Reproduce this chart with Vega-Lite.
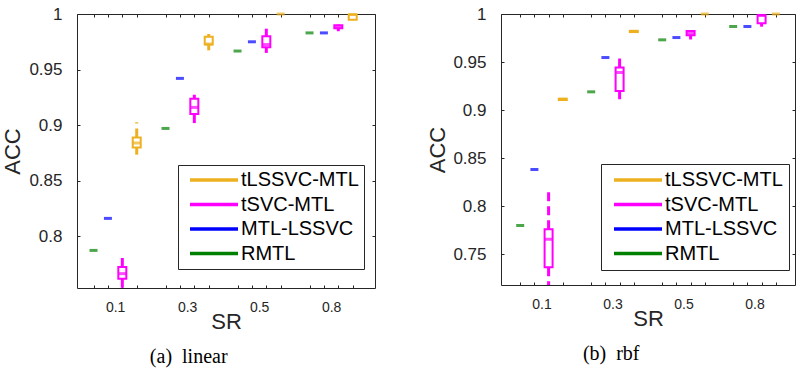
{
  "$schema": "https://vega.github.io/schema/vega-lite/v6.json",
  "padding": {"left": 1, "top": 4, "right": 0, "bottom": 0},
  "background": "white",
  "config": {
    "view": {"stroke": "#262626", "strokeWidth": 1},
    "axis": {"domain": false, "grid": false, "tickColor": "#262626", "tickSize": -3, "tickWidth": 1, "labelColor": "#262626", "titleColor": "#262626", "labelFont": "Liberation Sans", "titleFont": "Liberation Sans", "titleFontWeight": "normal"},
    "legend": {"orient": "none", "title": null, "symbolType": "M-0.6,0H9", "symbolSize": 100, "symbolStrokeWidth": 3.3, "labelFontSize": 20, "labelFont": "Liberation Sans", "labelColor": "black", "strokeColor": "#262626", "fillColor": "white", "padding": 5, "rowPadding": 4.5, "labelOffset": 38},
    "title": {"orient": "bottom", "anchor": "middle", "frame": "bounds", "font": "Liberation Serif", "fontSize": 20, "fontWeight": "normal", "color": "black", "offset": 15}
  },
  "datasets": {
    "boxes": [
      {"panel": "a", "sr": "0.1", "method": "RMTL", "pos": 1, "lo": 0.7874, "q1": 0.7874, "med": 0.7874, "q3": 0.7874, "hi": 0.7874},
      {"panel": "a", "sr": "0.1", "method": "MTL-LSSVC", "pos": 2, "lo": 0.8162, "q1": 0.8162, "med": 0.8162, "q3": 0.8162, "hi": 0.8162},
      {"panel": "a", "sr": "0.1", "method": "tSVC-MTL", "pos": 3, "lo": 0.745, "q1": 0.762, "med": 0.7665, "q3": 0.7725, "hi": 0.7806},
      {"panel": "a", "sr": "0.1", "method": "tLSSVC-MTL", "pos": 4, "lo": 0.8735, "q1": 0.88, "med": 0.884, "q3": 0.889, "hi": 0.9027},
      {"panel": "a", "sr": "0.3", "method": "RMTL", "pos": 6, "lo": 0.8971, "q1": 0.8971, "med": 0.8971, "q3": 0.8971, "hi": 0.8971},
      {"panel": "a", "sr": "0.3", "method": "MTL-LSSVC", "pos": 7, "lo": 0.9421, "q1": 0.9421, "med": 0.9421, "q3": 0.9421, "hi": 0.9421},
      {"panel": "a", "sr": "0.3", "method": "tSVC-MTL", "pos": 8, "lo": 0.8984, "q1": 0.91, "med": 0.916, "q3": 0.9238, "hi": 0.9274},
      {"panel": "a", "sr": "0.3", "method": "tLSSVC-MTL", "pos": 9, "lo": 0.9673, "q1": 0.9725, "med": 0.973, "q3": 0.9795, "hi": 0.982},
      {"panel": "a", "sr": "0.5", "method": "RMTL", "pos": 11, "lo": 0.9667, "q1": 0.9667, "med": 0.9667, "q3": 0.9667, "hi": 0.9667},
      {"panel": "a", "sr": "0.5", "method": "MTL-LSSVC", "pos": 12, "lo": 0.975, "q1": 0.975, "med": 0.975, "q3": 0.975, "hi": 0.975},
      {"panel": "a", "sr": "0.5", "method": "tSVC-MTL", "pos": 13, "lo": 0.965, "q1": 0.97, "med": 0.9725, "q3": 0.98, "hi": 0.9868},
      {"panel": "a", "sr": "0.5", "method": "tLSSVC-MTL", "pos": 14, "lo": 1.0, "q1": 1.0, "med": 1.0, "q3": 1.0, "hi": 1.0},
      {"panel": "a", "sr": "0.8", "method": "RMTL", "pos": 16, "lo": 0.983, "q1": 0.983, "med": 0.983, "q3": 0.983, "hi": 0.983},
      {"panel": "a", "sr": "0.8", "method": "MTL-LSSVC", "pos": 17, "lo": 0.983, "q1": 0.983, "med": 0.983, "q3": 0.983, "hi": 0.983},
      {"panel": "a", "sr": "0.8", "method": "tSVC-MTL", "pos": 18, "lo": 0.9845, "q1": 0.9872, "med": 0.9885, "q3": 0.9898, "hi": 0.9905},
      {"panel": "a", "sr": "0.8", "method": "tLSSVC-MTL", "pos": 19, "lo": 0.9945, "q1": 0.9948, "med": 0.9995, "q3": 0.9995, "hi": 1.0},
      {"panel": "b", "sr": "0.1", "method": "RMTL", "pos": 1, "lo": 0.78, "q1": 0.78, "med": 0.78, "q3": 0.78, "hi": 0.78},
      {"panel": "b", "sr": "0.1", "method": "MTL-LSSVC", "pos": 2, "lo": 0.8382, "q1": 0.8382, "med": 0.8382, "q3": 0.8382, "hi": 0.8382},
      {"panel": "b", "sr": "0.1", "method": "tSVC-MTL", "pos": 3, "lo": 0.7, "q1": 0.7365, "med": 0.7656, "q3": 0.776, "hi": 0.8194},
      {"panel": "b", "sr": "0.1", "method": "tLSSVC-MTL", "pos": 4, "lo": 0.9098, "q1": 0.9105, "med": 0.9112, "q3": 0.9118, "hi": 0.9125},
      {"panel": "b", "sr": "0.3", "method": "RMTL", "pos": 6, "lo": 0.919, "q1": 0.919, "med": 0.919, "q3": 0.919, "hi": 0.919},
      {"panel": "b", "sr": "0.3", "method": "MTL-LSSVC", "pos": 7, "lo": 0.9547, "q1": 0.9547, "med": 0.9547, "q3": 0.9547, "hi": 0.9547},
      {"panel": "b", "sr": "0.3", "method": "tSVC-MTL", "pos": 8, "lo": 0.9113, "q1": 0.92, "med": 0.9391, "q3": 0.9443, "hi": 0.9582},
      {"panel": "b", "sr": "0.3", "method": "tLSSVC-MTL", "pos": 9, "lo": 0.9808, "q1": 0.9812, "med": 0.9818, "q3": 0.9825, "hi": 0.983},
      {"panel": "b", "sr": "0.5", "method": "RMTL", "pos": 11, "lo": 0.9731, "q1": 0.9731, "med": 0.9731, "q3": 0.9731, "hi": 0.9731},
      {"panel": "b", "sr": "0.5", "method": "MTL-LSSVC", "pos": 12, "lo": 0.9755, "q1": 0.9755, "med": 0.9755, "q3": 0.9755, "hi": 0.9755},
      {"panel": "b", "sr": "0.5", "method": "tSVC-MTL", "pos": 13, "lo": 0.9735, "q1": 0.978, "med": 0.98, "q3": 0.9822, "hi": 0.9825},
      {"panel": "b", "sr": "0.5", "method": "tLSSVC-MTL", "pos": 14, "lo": 1.0, "q1": 1.0, "med": 1.0, "q3": 1.0, "hi": 1.0},
      {"panel": "b", "sr": "0.8", "method": "RMTL", "pos": 16, "lo": 0.987, "q1": 0.987, "med": 0.987, "q3": 0.987, "hi": 0.987},
      {"panel": "b", "sr": "0.8", "method": "MTL-LSSVC", "pos": 17, "lo": 0.987, "q1": 0.987, "med": 0.987, "q3": 0.987, "hi": 0.987},
      {"panel": "b", "sr": "0.8", "method": "tSVC-MTL", "pos": 18, "lo": 0.9868, "q1": 0.9904, "med": 0.9985, "q3": 0.9988, "hi": 0.9992},
      {"panel": "b", "sr": "0.8", "method": "tLSSVC-MTL", "pos": 19, "lo": 1.0, "q1": 1.0, "med": 1.0, "q3": 1.0, "hi": 1.0}
    ]
  },
  "spacing": 50,
  "resolve": {"scale": {"color": "independent"}, "legend": {"color": "independent"}},
  "hconcat": [
    {
      "width": 298, "height": 274,
      "title": {"text": "(a)\u00a0 linear"},
      "data": {"name": "boxes"},
      "transform": [{"filter": "datum.panel == 'a'"}],
      "resolve": {"axis": {"x": "independent", "y": "independent"}},
      "layer": [
        {
          "mark": {"type": "rule", "strokeWidth": 3, "strokeDash": [9, 5], "clip": true},
          "encoding": {
            "x": {"field": "pos", "type": "quantitative", "scale": {"domain": [0.2, 20.2], "nice": false, "zero": false},
              "axis": {"orient": "bottom", "values": [1, 2, 2.5, 3, 4, 6, 7, 7.5, 8, 9, 11, 12, 12.5, 13, 14, 16, 17, 17.5, 18, 19],
                "labelExpr": "datum.value == 2.5 ? '0.1' : datum.value == 7.5 ? '0.3' : datum.value == 12.5 ? '0.5' : datum.value == 17.5 ? '0.8' : ''",
                "tickOpacity": {"condition": {"test": "datum.value % 1 != 0", "value": 0}, "value": 1},
                "labelFontSize": 14, "labelPadding": 15, "labelOverlap": false, "labelFlush": false, "title": "SR", "titleFontSize": 22, "titlePadding": -3}},
            "y": {"field": "q3", "type": "quantitative", "scale": {"domain": [0.7536, 1], "nice": false, "zero": false},
              "axis": {"orient": "left", "values": [0.8, 0.85, 0.9, 0.95, 1], "format": "~g", "labelFontSize": 17, "labelPadding": 18, "labelOverlap": false, "labelFlush": false, "title": "ACC", "titleFontSize": 22, "titlePadding": 4}},
            "y2": {"field": "hi"},
            "color": {"field": "method", "type": "nominal",
              "scale": {"domain": ["tLSSVC-MTL", "tSVC-MTL", "MTL-LSSVC", "RMTL"], "range": ["#EDB120", "#FF00FF", "#0000FF", "#008000"]},
              "legend": {"legendX": 101, "legendY": 151}}
          }
        },
        {
          "mark": {"type": "rule", "strokeWidth": 3, "strokeDash": [9, 5], "clip": true},
          "encoding": {
            "x": {"field": "pos", "type": "quantitative", "scale": {"domain": [0.2, 20.2], "nice": false, "zero": false}, "axis": null},
            "y": {"field": "q1", "type": "quantitative", "scale": {"domain": [0.7536, 1], "nice": false, "zero": false}, "axis": null},
            "y2": {"field": "lo"},
            "color": {"field": "method", "type": "nominal"}
          }
        },
        {
          "transform": [{"filter": "datum.q3 > datum.q1"}],
          "mark": {"type": "bar", "width": 8, "filled": false, "fill": "white", "strokeWidth": 2},
          "encoding": {
            "x": {"field": "pos", "type": "quantitative", "scale": {"domain": [0.2, 20.2], "nice": false, "zero": false}, "axis": null},
            "y": {"field": "q1", "type": "quantitative", "scale": {"domain": [0.7536, 1], "nice": false, "zero": false}, "axis": null},
            "y2": {"field": "q3"},
            "color": {"field": "method", "type": "nominal"}
          }
        },
        {
          "mark": {"type": "tick", "orient": "horizontal", "size": 8, "thickness": 3},
          "encoding": {
            "x": {"field": "pos", "type": "quantitative", "scale": {"domain": [0.2, 20.2], "nice": false, "zero": false}, "axis": null},
            "y": {"field": "med", "type": "quantitative", "scale": {"domain": [0.7536, 1], "nice": false, "zero": false}, "axis": null},
            "color": {"field": "method", "type": "nominal"}
          }
        },
        {
          "mark": {"type": "tick", "opacity": 0},
          "encoding": {
            "x": {"field": "pos", "type": "quantitative", "scale": {"domain": [0.2, 20.2], "nice": false, "zero": false},
              "axis": {"orient": "top", "values": [1, 2, 3, 4, 6, 7, 8, 9, 11, 12, 13, 14, 16, 17, 18, 19], "labels": false, "title": null}},
            "y": {"field": "med", "type": "quantitative", "scale": {"domain": [0.7536, 1], "nice": false, "zero": false},
              "axis": {"orient": "right", "values": [0.8, 0.85, 0.9, 0.95, 1], "labels": false, "title": null}}
          }
        }
      ]
    },
    {
      "width": 294, "height": 271,
      "title": {"text": "(b)\u00a0 rbf"},
      "data": {"name": "boxes"},
      "transform": [{"filter": "datum.panel == 'b'"}],
      "resolve": {"axis": {"x": "independent", "y": "independent"}},
      "layer": [
        {
          "mark": {"type": "rule", "strokeWidth": 3, "strokeDash": [9, 5], "clip": true},
          "encoding": {
            "x": {"field": "pos", "type": "quantitative", "scale": {"domain": [0, 20], "nice": false, "zero": false},
              "axis": {"orient": "bottom", "values": [1, 2, 2.5, 3, 4, 6, 7, 7.5, 8, 9, 11, 12, 12.5, 13, 14, 16, 17, 17.5, 18, 19],
                "labelExpr": "datum.value == 2.5 ? '0.1' : datum.value == 7.5 ? '0.3' : datum.value == 12.5 ? '0.5' : datum.value == 17.5 ? '0.8' : ''",
                "tickOpacity": {"condition": {"test": "datum.value % 1 != 0", "value": 0}, "value": 1},
                "labelFontSize": 14, "labelPadding": 15, "labelOverlap": false, "labelFlush": false, "title": "SR", "titleFontSize": 22, "titlePadding": -3}},
            "y": {"field": "q3", "type": "quantitative", "scale": {"domain": [0.718, 1], "nice": false, "zero": false},
              "axis": {"orient": "left", "values": [0.75, 0.8, 0.85, 0.9, 0.95, 1], "format": "~g", "labelFontSize": 17, "labelPadding": 18, "labelOverlap": false, "labelFlush": false, "title": "ACC", "titleFontSize": 22, "titlePadding": 3}},
            "y2": {"field": "hi"},
            "color": {"field": "method", "type": "nominal",
              "scale": {"domain": ["tLSSVC-MTL", "tSVC-MTL", "MTL-LSSVC", "RMTL"], "range": ["#EDB120", "#FF00FF", "#0000FF", "#008000"]},
              "legend": {"legendX": 100, "legendY": 150, "padding": 6}}
          }
        },
        {
          "mark": {"type": "rule", "strokeWidth": 3, "strokeDash": [9, 5], "clip": true},
          "encoding": {
            "x": {"field": "pos", "type": "quantitative", "scale": {"domain": [0, 20], "nice": false, "zero": false}, "axis": null},
            "y": {"field": "q1", "type": "quantitative", "scale": {"domain": [0.718, 1], "nice": false, "zero": false}, "axis": null},
            "y2": {"field": "lo"},
            "color": {"field": "method", "type": "nominal"}
          }
        },
        {
          "transform": [{"filter": "datum.q3 > datum.q1"}],
          "mark": {"type": "bar", "width": 8, "filled": false, "fill": "white", "strokeWidth": 2},
          "encoding": {
            "x": {"field": "pos", "type": "quantitative", "scale": {"domain": [0, 20], "nice": false, "zero": false}, "axis": null},
            "y": {"field": "q1", "type": "quantitative", "scale": {"domain": [0.718, 1], "nice": false, "zero": false}, "axis": null},
            "y2": {"field": "q3"},
            "color": {"field": "method", "type": "nominal"}
          }
        },
        {
          "mark": {"type": "tick", "orient": "horizontal", "size": 8, "thickness": 3},
          "encoding": {
            "x": {"field": "pos", "type": "quantitative", "scale": {"domain": [0, 20], "nice": false, "zero": false}, "axis": null},
            "y": {"field": "med", "type": "quantitative", "scale": {"domain": [0.718, 1], "nice": false, "zero": false}, "axis": null},
            "color": {"field": "method", "type": "nominal"}
          }
        },
        {
          "mark": {"type": "tick", "opacity": 0},
          "encoding": {
            "x": {"field": "pos", "type": "quantitative", "scale": {"domain": [0, 20], "nice": false, "zero": false},
              "axis": {"orient": "top", "values": [1, 2, 3, 4, 6, 7, 8, 9, 11, 12, 13, 14, 16, 17, 18, 19], "labels": false, "title": null}},
            "y": {"field": "med", "type": "quantitative", "scale": {"domain": [0.718, 1], "nice": false, "zero": false},
              "axis": {"orient": "right", "values": [0.75, 0.8, 0.85, 0.9, 0.95, 1], "labels": false, "title": null}}
          }
        }
      ]
    }
  ]
}
